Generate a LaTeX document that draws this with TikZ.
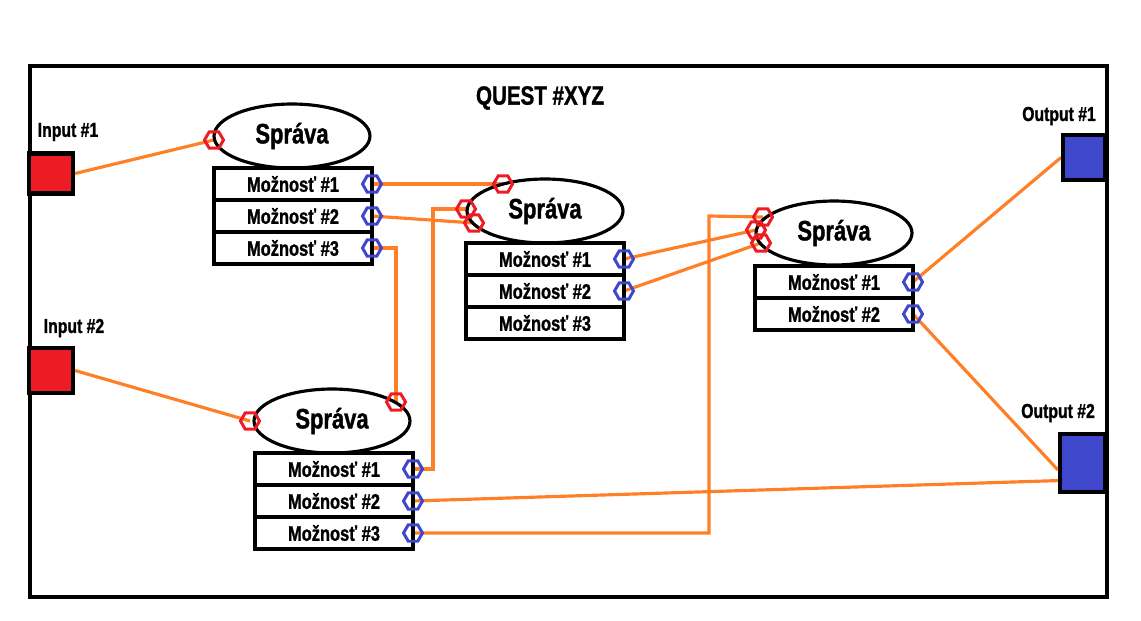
\documentclass[tikz,border=0pt]{standalone}
\usepackage{fontspec}
\setmainfont{Liberation Sans}[FakeStretch=0.78, BoldFeatures={FakeBold=1.2}]
\usetikzlibrary{shapes.geometric}
\definecolor{pRed}{HTML}{ED1C24}
\definecolor{pBlue}{HTML}{3F48CC}
\definecolor{pOrange}{HTML}{FF7F27}
\pgfdeclarelayer{wires}
\pgfsetlayers{wires,main}
\tikzset{
	msg/.style={ellipse, draw=black, line width=1.8pt, minimum width=3.12cm, minimum height=1.28cm, font=\fontsize{16}{18}\selectfont\bfseries},
	opt/.style={rectangle, draw=black, line width=2.2pt, outer sep=0pt, inner sep=0pt, minimum width=3.16cm, minimum height=0.64cm, font=\fontsize{12}{14}\selectfont\bfseries},
	inport/.style={regular polygon, regular polygon sides=6, draw=pRed, line width=1.7pt, minimum size=0.38cm, inner sep=0pt},
	outport/.style={inport, draw=pBlue},
	iobox/.style={rectangle, draw=black, line width=2.3pt, inner sep=0pt},
	iolabel/.style={font=\fontsize{11.5}{13}\selectfont\bfseries},
	wire/.style={draw=pOrange, line width=1.8pt}
}
\begin{document}
\begin{tikzpicture}[x=0.02cm, y=-0.02cm]
		\useasboundingbox (0,0) rectangle (1141,620);
		\draw[black, line width=2.3pt] (30,66) rectangle (1107,597);
		\node[font=\fontsize{15}{18}\selectfont\bfseries] (title) at (540,98) {QUEST \#XYZ};
		\node[iolabel] (in1lbl) at (68,132) {Input \#1};
		\node[iolabel] (in2lbl) at (74,328) {Input \#2};
		\node[iolabel] (out1lbl) at (1059,116) {Output \#1};
		\node[iolabel] (out2lbl) at (1058,413) {Output \#2};
		\node[iobox, fill=pRed, minimum width=0.88cm, minimum height=0.8cm] (in1) at (51,173.5) {};
		\node[iobox, fill=pRed, minimum width=0.88cm, minimum height=0.9cm] (in2) at (51,370.5) {};
		\node[iobox, fill=pBlue, minimum width=0.84cm, minimum height=0.9cm] (out1) at (1084,157.5) {};
		\node[iobox, fill=pBlue, minimum width=0.9cm, minimum height=1.16cm] (out2) at (1082.5,463) {};
		% message 1
		\node[msg] (m1) at (292,136) {Správa};
		\node[opt] (m1a) at (293,184) {Možnosť \#1};
		\node[opt] (m1b) at (293,216) {Možnosť \#2};
		\node[opt] (m1c) at (293,248) {Možnosť \#3};
		\node[inport] (m1i) at (214,140) {};
		\node[outport] (m1pa) at (m1a.east) {};
		\node[outport] (m1pb) at (m1b.east) {};
		\node[outport] (m1pc) at (m1c.east) {};
		% message 2
		\node[msg] (m2) at (545,211) {Správa};
		\node[opt] (m2a) at (545,259) {Možnosť \#1};
		\node[opt] (m2b) at (545,291) {Možnosť \#2};
		\node[opt] (m2c) at (545,323) {Možnosť \#3};
		\node[inport] (m2i1) at (503,184) {};
		\node[inport] (m2i2) at (466,209) {};
		\node[inport] (m2i3) at (474,223) {};
		\node[outport] (m2pa) at (m2a.east) {};
		\node[outport] (m2pb) at (m2b.east) {};
		% message 3
		\node[msg] (m3) at (834,233) {Správa};
		\node[opt] (m3a) at (834,282) {Možnosť \#1};
		\node[opt] (m3b) at (834,314) {Možnosť \#2};
		\node[inport] (m3i1) at (763,217) {};
		\node[inport] (m3i2) at (756,230) {};
		\node[inport] (m3i3) at (761,243) {};
		\node[outport] (m3pa) at (m3a.east) {};
		\node[outport] (m3pb) at (m3b.east) {};
		% message 4
		\node[msg] (m4) at (332,421) {Správa};
		\node[opt] (m4a) at (334,469) {Možnosť \#1};
		\node[opt] (m4b) at (334,501) {Možnosť \#2};
		\node[opt] (m4c) at (334,533) {Možnosť \#3};
		\node[inport] (m4i1) at (250,421) {};
		\node[inport] (m4i2) at (396,402) {};
		\node[outport] (m4pa) at (m4a.east) {};
		\node[outport] (m4pb) at (m4b.east) {};
		\node[outport] (m4pc) at (m4c.east) {};
		\coordinate (bend1) at (433,209);
		\coordinate (bend2) at (709,216);
		\begin{pgfonlayer}{wires}
			\draw[wire] (in1.east) -- (m1i.center);
			\draw[wire] (in2.east) -- (m4i1.center);
			\draw[wire] (m1pa.center) -- (m2i1.center);
			\draw[wire] (m1pb.center) -- (m2i3.center);
			\draw[wire] (m1pc.center) -| (m4i2.center);
			\draw[wire] (m4pa.center) -| (bend1) -- (m2i2.center);
			\draw[wire] (m2pa.center) -- (m3i2.center);
			\draw[wire] (m2pb.center) -- (m3i3.center);
			\draw[wire] (m4pc.center) -| (bend2) -- (m3i1.center);
			\draw[wire] (m4pb.center) -- ([yshift=-10pt]out2.west);
			\draw[wire] (m3pa.center) -- (out1.west);
			\draw[wire] (m3pb.center) -- ([yshift=-4pt]out2.west);
		\end{pgfonlayer}
\end{tikzpicture}
\end{document}
